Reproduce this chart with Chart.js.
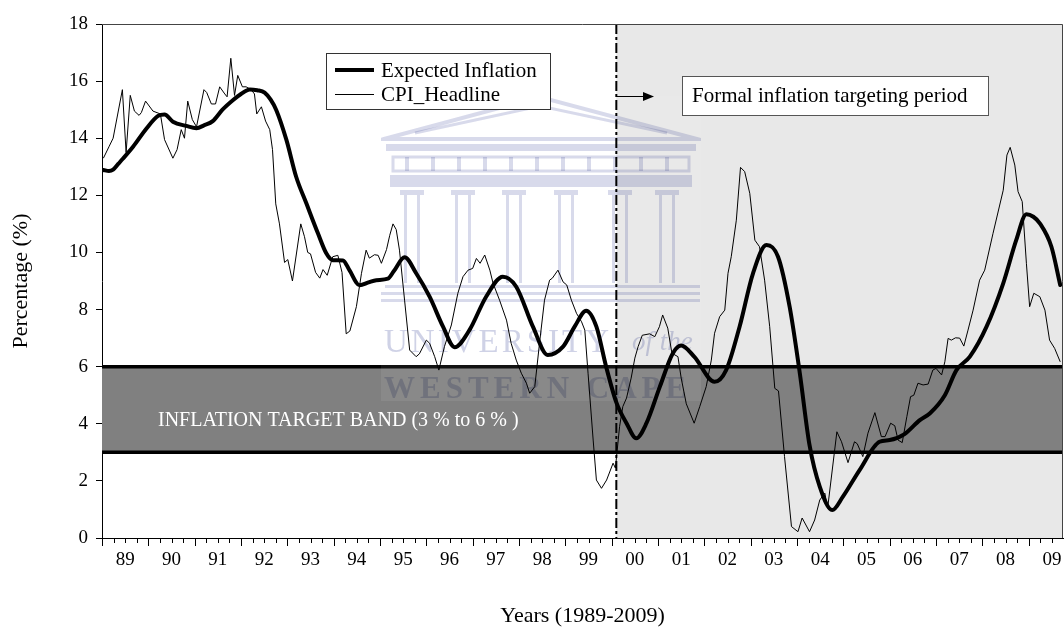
<!DOCTYPE html>
<html>
<head>
<meta charset="utf-8">
<script src="https://cdn.jsdelivr.net/npm/chart.js@4.4.1/dist/chart.umd.min.js"></script>
<style>
  html, body { margin: 0; padding: 0; background: #fff; }
  canvas { display: block; }
</style>
</head>
<body>
<canvas id="chart" width="1064" height="629"></canvas>
<script>
// --- data (decimal years) ---
const yearLabels = ['89', '90', '91', '92', '93', '94', '95', '96', '97', '98', '99',
                    '00', '01', '02', '03', '04', '05', '06', '07', '08', '09'];

const cpiYears = [
  1989.03, 1989.15, 1989.24, 1989.44, 1989.52, 1989.61, 1989.70, 1989.80, 1989.85, 1989.94,
  1990.10, 1990.26, 1990.35, 1990.53, 1990.62, 1990.71, 1990.78, 1990.85, 1990.95, 1991.04,
  1991.20, 1991.26, 1991.36, 1991.45, 1991.54, 1991.65, 1991.70, 1991.78, 1991.86, 1991.93,
  1992.03, 1992.11, 1992.22, 1992.29, 1992.34, 1992.44, 1992.53, 1992.62, 1992.68, 1992.75,
  1992.83, 1992.94, 1993.01, 1993.11, 1993.29, 1993.37, 1993.44, 1993.50, 1993.61, 1993.70,
  1993.77, 1993.86, 1993.98, 1994.09, 1994.18, 1994.27, 1994.35, 1994.49, 1994.60, 1994.70,
  1994.77, 1994.88, 1994.96, 1995.03, 1995.14, 1995.21, 1995.28, 1995.35, 1995.42, 1995.53,
  1995.64, 1995.78, 1995.85, 1996.00, 1996.07, 1996.18, 1996.27, 1996.39, 1996.54, 1996.68,
  1996.79, 1996.90, 1997.00, 1997.08, 1997.16, 1997.26, 1997.37, 1997.44, 1997.58, 1997.73,
  1997.83, 1997.94, 1998.05, 1998.16, 1998.23, 1998.34, 1998.45, 1998.55, 1998.66, 1998.72,
  1998.84, 1998.95, 1999.03, 1999.13, 1999.24, 1999.35, 1999.42, 1999.49, 1999.60, 1999.67,
  1999.78, 1999.89, 2000.03, 2000.08, 2000.17, 2000.24, 2000.32, 2000.42, 2000.50, 2000.57,
  2000.66, 2000.82, 2000.93, 2001.03, 2001.10, 2001.21, 2001.30, 2001.43, 2001.50, 2001.61,
  2001.78, 2001.90, 2002.04, 2002.15, 2002.22, 2002.33, 2002.44, 2002.51, 2002.58, 2002.69,
  2002.78, 2002.87, 2002.98, 2003.09, 2003.19, 2003.30, 2003.41, 2003.52, 2003.60, 2003.73,
  2003.88, 2004.02, 2004.11, 2004.27, 2004.38, 2004.49, 2004.60, 2004.66, 2004.86, 2004.96,
  2005.10, 2005.24, 2005.30, 2005.42, 2005.53, 2005.68, 2005.82, 2005.90, 2006.02, 2006.11,
  2006.18, 2006.27, 2006.37, 2006.45, 2006.52, 2006.61, 2006.72, 2006.83, 2006.93, 2007.00,
  2007.12, 2007.19, 2007.26, 2007.33, 2007.42, 2007.51, 2007.60, 2007.69, 2007.80, 2007.94,
  2008.05, 2008.23, 2008.45, 2008.53, 2008.60, 2008.70, 2008.77, 2008.86, 2008.95, 2009.02,
  2009.11, 2009.24, 2009.35, 2009.45, 2009.56, 2009.68
];
const cpiValues = [
  13.3, 13.7, 14.0, 15.7, 13.5, 15.5, 14.95, 14.8, 14.9, 15.3,
  14.95, 14.85, 13.95, 13.3, 13.6, 14.3, 14.0, 15.3, 14.65, 14.4,
  15.7, 15.6, 15.2, 15.2, 15.8, 15.55, 15.45, 16.8, 15.5, 16.2,
  15.8, 15.8, 15.7, 15.55, 14.85, 15.1, 14.6, 14.3, 13.6, 11.7,
  11.0, 9.65, 9.75, 9.0, 11.0, 10.55, 10.0, 9.95, 9.3, 9.1,
  9.4, 9.2, 9.85, 9.9, 9.3, 7.15, 7.25, 8.1, 9.27, 10.08,
  9.8, 9.92, 9.9, 9.62, 10.1, 10.6, 11.0, 10.8, 10.08, 8.33,
  6.58, 6.35, 6.45, 6.93, 6.82, 6.35, 5.88, 6.7, 7.46, 8.57,
  9.15, 9.38, 9.44, 9.79, 9.62, 9.91, 9.38, 8.92, 8.33, 7.63,
  6.82, 6.23, 5.77, 5.42, 5.07, 5.3, 6.93, 8.33, 9.03, 9.1,
  9.38, 8.97, 8.86, 8.33, 7.87, 7.57, 7.28, 5.77, 3.43, 2.03,
  1.74, 2.03, 2.62, 2.45, 3.9, 4.6, 4.9, 5.6, 6.3, 6.7,
  7.1, 7.15, 7.05, 7.4, 7.81, 7.35, 6.47, 6.35, 5.6, 4.7,
  4.02, 4.6, 5.3, 6.23, 7.17, 7.75, 7.98, 9.27, 9.85, 11.13,
  12.98, 12.83, 12.07, 10.43, 10.2, 9.03, 7.4, 5.24, 5.15, 2.85,
  0.4, 0.22, 0.7, 0.22, 0.63, 1.33, 1.57, 1.04, 3.72, 3.37,
  2.64, 3.37, 3.3, 2.85, 3.67, 4.39, 3.55, 3.55, 4.02, 3.93,
  3.43, 3.34, 4.25, 4.95, 5.0, 5.42, 5.36, 5.39, 5.88, 5.94,
  5.71, 6.17, 6.99, 6.93, 7.01, 7.0, 6.72, 7.28, 7.98, 9.03,
  9.38, 10.67, 12.18, 13.41, 13.68, 13.06, 12.13, 11.78, 9.62, 8.1,
  8.57, 8.45, 7.98, 6.93, 6.64, 6.17
];

const expYears = [
  1989.03, 1989.15, 1989.24, 1989.35, 1989.45, 1989.67, 1989.96, 1990.21, 1990.35, 1990.53,
  1990.82, 1991.04, 1991.20, 1991.39, 1991.60, 1991.83, 1992.00, 1992.19, 1992.35, 1992.51,
  1992.64, 1992.76, 1992.98, 1993.19, 1993.41, 1993.66, 1993.84, 1993.98, 1994.20, 1994.34,
  1994.56, 1994.75, 1994.92, 1995.17, 1995.30, 1995.53, 1995.78, 1996.07, 1996.36, 1996.61,
  1996.93, 1997.29, 1997.65, 1997.94, 1998.30, 1998.62, 1998.95, 1999.20, 1999.45, 1999.67,
  1999.88, 2000.10, 2000.32, 2000.53, 2000.75, 2001.04, 2001.32, 2001.50, 2001.78, 2002.22,
  2002.47, 2002.76, 2003.05, 2003.34, 2003.59, 2003.84, 2004.06, 2004.27, 2004.49, 2004.76,
  2004.99, 2005.35, 2005.78, 2006.00, 2006.32, 2006.65, 2006.87, 2007.19, 2007.44, 2007.73,
  2008.09, 2008.45, 2008.73, 2008.95, 2009.10, 2009.24, 2009.49, 2009.68
];
const expValues = [
  12.89, 12.85, 12.9, 13.1, 13.28, 13.7, 14.34, 14.78, 14.83, 14.58,
  14.43, 14.35, 14.45, 14.6, 15.0, 15.34, 15.55, 15.71, 15.68, 15.6,
  15.35, 14.99, 13.94, 12.65, 11.72, 10.67, 9.97, 9.73, 9.72, 9.38,
  8.85, 8.95, 9.03, 9.08, 9.35, 9.83, 9.27, 8.45, 7.4, 6.68,
  7.28, 8.45, 9.15, 8.8, 7.4, 6.41, 6.7, 7.4, 7.96, 7.4,
  6.0, 4.75, 4.02, 3.49, 4.02, 5.3, 6.47, 6.74, 6.35, 5.47,
  5.88, 7.4, 9.27, 10.26, 9.85, 8.1, 5.77, 3.25, 1.8, 0.98,
  1.45, 2.38, 3.37, 3.43, 3.64, 4.13, 4.37, 5.0, 5.88, 6.35,
  7.4, 8.92, 10.43, 11.34, 11.25, 11.02, 10.2, 8.86
];

const targetLow = 3;
const targetHigh = 6;
const targetingStart = 2000.1; // start of formal inflation targeting

const SERIF = "'Liberation Serif', 'Times New Roman', serif";

// --- decorations drawn on the canvas ---
function drawCrest(ctx) {
    // faint university watermark
    ctx.save();
    ctx.beginPath();
    ctx.rect(381, 92, 320, 310);
    ctx.clip();
    ctx.globalCompositeOperation = 'multiply';
    ctx.strokeStyle = 'rgb(214,216,234)';
    ctx.fillStyle = 'rgb(214,216,234)';

    ctx.lineWidth = 4;
    ctx.beginPath();
    ctx.moveTo(384, 139); ctx.lineTo(540, 97); ctx.lineTo(697, 139); ctx.closePath();
    ctx.stroke();
    ctx.lineWidth = 3;
    ctx.beginPath();
    ctx.moveTo(415, 133); ctx.lineTo(540, 106); ctx.lineTo(667, 133);
    ctx.stroke();

    ctx.fillRect(386, 144, 310, 7);
    ctx.lineWidth = 3;
    ctx.strokeRect(393, 157, 296, 14);
    for (let x = 405; x < 685; x += 26) ctx.fillRect(x, 157, 4, 14);
    ctx.fillRect(390, 175, 302, 12);

    [412, 463, 514, 566, 620, 667].forEach(cx => {
        ctx.fillRect(cx - 12, 190, 24, 5);
        ctx.fillRect(cx - 8, 195, 3, 88);
        ctx.fillRect(cx + 5, 195, 3, 88);
    });
    ctx.fillRect(385, 285, 315, 3);
    ctx.fillRect(380, 292, 320, 3);
    ctx.fillRect(375, 299, 325, 3);

    ctx.fillStyle = 'rgb(204,207,229)';
    ctx.textBaseline = 'alphabetic';
    ctx.font = `33px ${SERIF}`;
    ctx.letterSpacing = '3px';
    ctx.fillText('UNIVERSITY', 384, 352);
    ctx.font = `italic 27px ${SERIF}`;
    ctx.letterSpacing = '0px';
    ctx.fillText('of the', 632, 350);
    ctx.font = `bold 31px ${SERIF}`;
    ctx.letterSpacing = '5px';
    ctx.fillText('WESTERN CAPE', 384, 398);

    ctx.globalCompositeOperation = 'source-over';
    ctx.fillStyle = 'rgba(255,255,255,0.07)';
    ctx.fillRect(381, 96, 320, 305);
    ctx.restore();
}

const backdrop = {
    id: 'backdrop',
    beforeDatasetsDraw(chart) {
        const { ctx, chartArea: a, scales: { x, y } } = chart;
        const xs = x.getPixelForValue(targetingStart);
        const yHi = y.getPixelForValue(targetHigh);
        const yLo = y.getPixelForValue(targetLow);
        ctx.save();
        // targeting period shading
        ctx.fillStyle = '#e8e8e8';
        ctx.fillRect(xs, a.top, a.right - xs, a.bottom - a.top);
        // target band
        ctx.fillStyle = '#808080';
        ctx.fillRect(a.left, yHi, a.right - a.left, yLo - yHi);
        ctx.strokeStyle = '#000';
        ctx.lineWidth = 3.5;
        ctx.beginPath();
        ctx.moveTo(a.left, yHi); ctx.lineTo(a.right, yHi);
        ctx.moveTo(a.left, yLo); ctx.lineTo(a.right, yLo);
        ctx.stroke();
        ctx.fillStyle = '#fff';
        ctx.font = `20px ${SERIF}`;
        ctx.textBaseline = 'alphabetic';
        ctx.fillText('INFLATION TARGET BAND (3 % to 6 % )', 158, 426);
        ctx.restore();

        drawCrest(ctx);

        // dash-dot divider
        ctx.save();
        ctx.strokeStyle = '#000';
        ctx.lineWidth = 2;
        ctx.setLineDash([10, 3, 3, 3]);
        ctx.beginPath();
        ctx.moveTo(xs, a.top);
        ctx.lineTo(xs, a.bottom);
        ctx.stroke();
        ctx.restore();
    },
    afterDraw(chart) {
        const { ctx, chartArea: a, scales: { x } } = chart;
        ctx.save();
        // frame top / right
        ctx.strokeStyle = '#444';
        ctx.lineWidth = 1;
        ctx.beginPath();
        ctx.moveTo(a.left, a.top + 0.5); ctx.lineTo(a.right - 0.5, a.top + 0.5);
        ctx.lineTo(a.right - 0.5, a.bottom);
        ctx.stroke();

        // quarterly ticks on the time axis
        ctx.strokeStyle = '#000';
        for (let q = 0; q * 0.25 + 1989 <= x.max; q++) {
            const px = Math.round(x.getPixelForValue(1989 + q * 0.25)) + 0.5;
            const len = q % 4 === 0 ? 8 : 5;
            ctx.beginPath();
            ctx.moveTo(px, a.bottom);
            ctx.lineTo(px, a.bottom + len);
            ctx.stroke();
        }

        // legend
        ctx.fillStyle = '#fff';
        ctx.fillRect(326, 53, 225, 57);
        ctx.strokeStyle = '#333';
        ctx.strokeRect(326.5, 53.5, 224, 56);
        ctx.strokeStyle = '#000';
        ctx.lineWidth = 4;
        ctx.beginPath(); ctx.moveTo(335, 70); ctx.lineTo(374, 70); ctx.stroke();
        ctx.lineWidth = 1;
        ctx.beginPath(); ctx.moveTo(335, 94.5); ctx.lineTo(374, 94.5); ctx.stroke();
        ctx.fillStyle = '#000';
        ctx.font = `21px ${SERIF}`;
        ctx.textBaseline = 'alphabetic';
        ctx.fillText('Expected Inflation', 381, 77);
        ctx.fillText('CPI_Headline', 381, 101);

        // arrow and period note
        const xs = x.getPixelForValue(targetingStart);
        ctx.lineWidth = 1;
        ctx.beginPath(); ctx.moveTo(xs, 96.5); ctx.lineTo(644, 96.5); ctx.stroke();
        ctx.beginPath();
        ctx.moveTo(654, 96.5); ctx.lineTo(643, 92); ctx.lineTo(643, 101); ctx.closePath();
        ctx.fill();

        ctx.fillStyle = '#fff';
        ctx.fillRect(682, 76, 307, 40);
        ctx.strokeStyle = '#555';
        ctx.strokeRect(682.5, 76.5, 306, 39);
        ctx.fillStyle = '#000';
        ctx.fillText('Formal inflation targeting period', 692, 102);
        ctx.restore();
    }
};

const toPoints = (xs, ys) => xs.map((t, i) => ({ x: t, y: ys[i] }));

new Chart(document.getElementById('chart'), {
    type: 'line',
    data: {
        datasets: [
            {
                label: 'Expected Inflation',
                data: toPoints(expYears, expValues),
                borderColor: '#000',
                borderWidth: 4,
                pointRadius: 0,
                cubicInterpolationMode: 'monotone',
                borderJoinStyle: 'round',
                borderCapStyle: 'round'
            },
            {
                label: 'CPI_Headline',
                data: toPoints(cpiYears, cpiValues),
                borderColor: '#000',
                borderWidth: 1,
                pointRadius: 0,
                tension: 0
            }
        ]
    },
    options: {
        responsive: false,
        animation: false,
        layout: { padding: { top: 24, right: 1, left: 0, bottom: 0 } },
        plugins: { legend: { display: false }, tooltip: { enabled: false } },
        scales: {
            x: {
                type: 'linear',
                min: 1989,
                max: 2009.74,
                afterFit: (s) => { s.height = 91; s.paddingLeft = 0; s.paddingRight = 0; },
                grid: { display: false, drawTicks: false },
                border: { display: true, color: '#000', width: 1 },
                ticks: {
                    stepSize: 0.25,
                    includeBounds: false,
                    autoSkip: false,
                    maxRotation: 0,
                    padding: 11,
                    color: '#000',
                    font: { family: SERIF, size: 19 },
                    callback: (v) => {
                        const f = v - Math.floor(v);
                        return Math.abs(f - 0.5) < 1e-6 ? yearLabels[Math.floor(v) - 1989] : '';
                    }
                },
                title: {
                    display: true,
                    text: 'Years (1989-2009)',
                    color: '#000',
                    font: { family: SERIF, size: 22, lineHeight: 1 },
                    padding: { top: 0, bottom: 2 }
                }
            },
            y: {
                min: 0,
                max: 18,
                afterFit: (s) => { s.width = 102; },
                grid: { drawOnChartArea: false, drawTicks: true, tickLength: 6, color: '#000' },
                border: { display: true, color: '#000', width: 1 },
                ticks: {
                    stepSize: 2,
                    padding: 8,
                    color: '#000',
                    font: { family: SERIF, size: 19 }
                },
                title: {
                    display: true,
                    text: 'Percentage (%)',
                    color: '#000',
                    font: { family: SERIF, size: 22, lineHeight: 1 },
                    padding: { top: 10, bottom: 0 }
                }
            }
        }
    },
    plugins: [backdrop]
});
</script>
</body>
</html>
